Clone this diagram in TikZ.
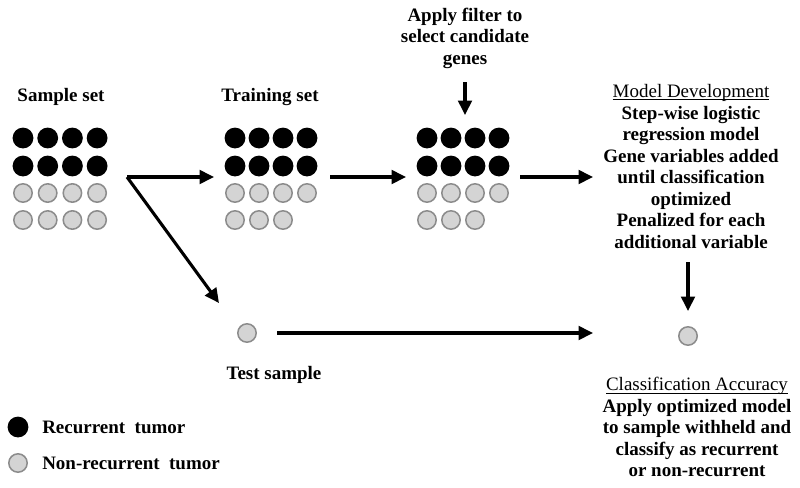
\documentclass[tikz,border=0pt]{standalone}
\usepackage{fontspec}
\setmainfont{Liberation Serif}
\usetikzlibrary{arrows.meta}
\definecolor{tumorfill}{HTML}{D4D4D4}
\definecolor{tumorline}{HTML}{8C8C8C}
\tikzset{
  rec/.style={circle, fill=black, minimum size=0.52cm, inner sep=0pt},
  nonrec/.style={circle, fill=tumorfill, draw=tumorline, line width=1.1pt, minimum size=0.46cm, inner sep=0pt},
  lbl/.style={font=\bfseries\fontsize{13.5}{15.3}\selectfont, align=center, inner sep=0pt},
  arr/.style={-{Triangle[length=0.36cm,width=0.34cm]}, line width=2.2pt},
}
\begin{document}
\begin{tikzpicture}[x=0.025cm,y=-0.025cm]
    \useasboundingbox (0,0) rectangle (800,487);
    % sample set
    \node[lbl] (samplelbl) at (61,97) {Sample set};
    \foreach \c in {0,...,3} {
        \foreach \r/\y in {1/138,2/166} \node[rec] (s\r\c) at ({23+24.7*\c},\y) {};
        \foreach \r/\y in {3/193,4/220} \node[nonrec] (s\r\c) at ({23+24.7*\c},\y) {};
    }
    % training set
    \node[lbl] (trainlbl) at (270,97) {Training set};
    \foreach \c in {0,...,3} {
        \foreach \r/\y in {1/138,2/166} \node[rec] (t\r\c) at ({235+24*\c},\y) {};
        \node[nonrec] (t3\c) at ({235+24*\c},193) {};
    }
    \foreach \c in {0,1,2} \node[nonrec] (t4\c) at ({235+24*\c},220) {};
    % filtered set
    \node[lbl] (filterlbl) at (465,38) {Apply filter to\\select candidate\\genes};
    \foreach \c in {0,...,3} {
        \foreach \r/\y in {1/138,2/166} \node[rec] (f\r\c) at ({427+24*\c},\y) {};
        \node[nonrec] (f3\c) at ({427+24*\c},193) {};
    }
    \foreach \c in {0,1,2} \node[nonrec] (f4\c) at ({427+24*\c},220) {};
    % model development
    \node[lbl] (modellbl) at (691,173) {{\mdseries\underline{\smash{Model Development}}}\\Step-wise logistic\\regression model\\Gene variables added\\until classification\\optimized\\Penalized for each\\additional variable};
    % test sample and result
    \node[nonrec] (test) at (247,333) {};
    \node[lbl] (testlbl) at (274,375) {Test sample};
    \node[nonrec] (result) at (688,336) {};
    \node[lbl] (accuracylbl) at (697,434) {{\mdseries\underline{\smash{Classification Accuracy}}}\\Apply optimized model\\to sample withheld and\\classify as recurrent\\or non-recurrent};
    % legend
    \node[rec] (legrec) at (18,427) {};
    \node[lbl, anchor=west] (legrectxt) at (42,427) {Recurrent\ \ tumor};
    \node[nonrec] (legnon) at (18,463) {};
    \node[lbl, anchor=west] (legnontxt) at (42,463) {Non-recurrent\ \ tumor};
    % arrows
    \coordinate (fork) at (127,177);
    \coordinate (trainin) at (214,177);
    \coordinate (testin) at (219,303);
    \coordinate (trainout) at (330,177);
    \coordinate (filtin) at (406,177);
    \coordinate (filtout) at (520,177);
    \coordinate (modelin) at (593,177);
    \coordinate (filttop) at (465,82);
    \coordinate (filttip) at (465,115);
    \coordinate (modelout) at (688,262);
    \coordinate (resulttip) at (688,311);
    \coordinate (testout) at (277,333);
    \coordinate (resultin) at (593,333);
    \draw[arr] (fork) -- (trainin);
    \draw[arr] (fork) -- (testin);
    \draw[arr] (trainout) -- (filtin);
    \draw[arr] (filtout) -- (modelin);
    \draw[arr] (filttop) -- (filttip);
    \draw[arr] (modelout) -- (resulttip);
    \draw[arr] (testout) -- (resultin);
\end{tikzpicture}
\end{document}
